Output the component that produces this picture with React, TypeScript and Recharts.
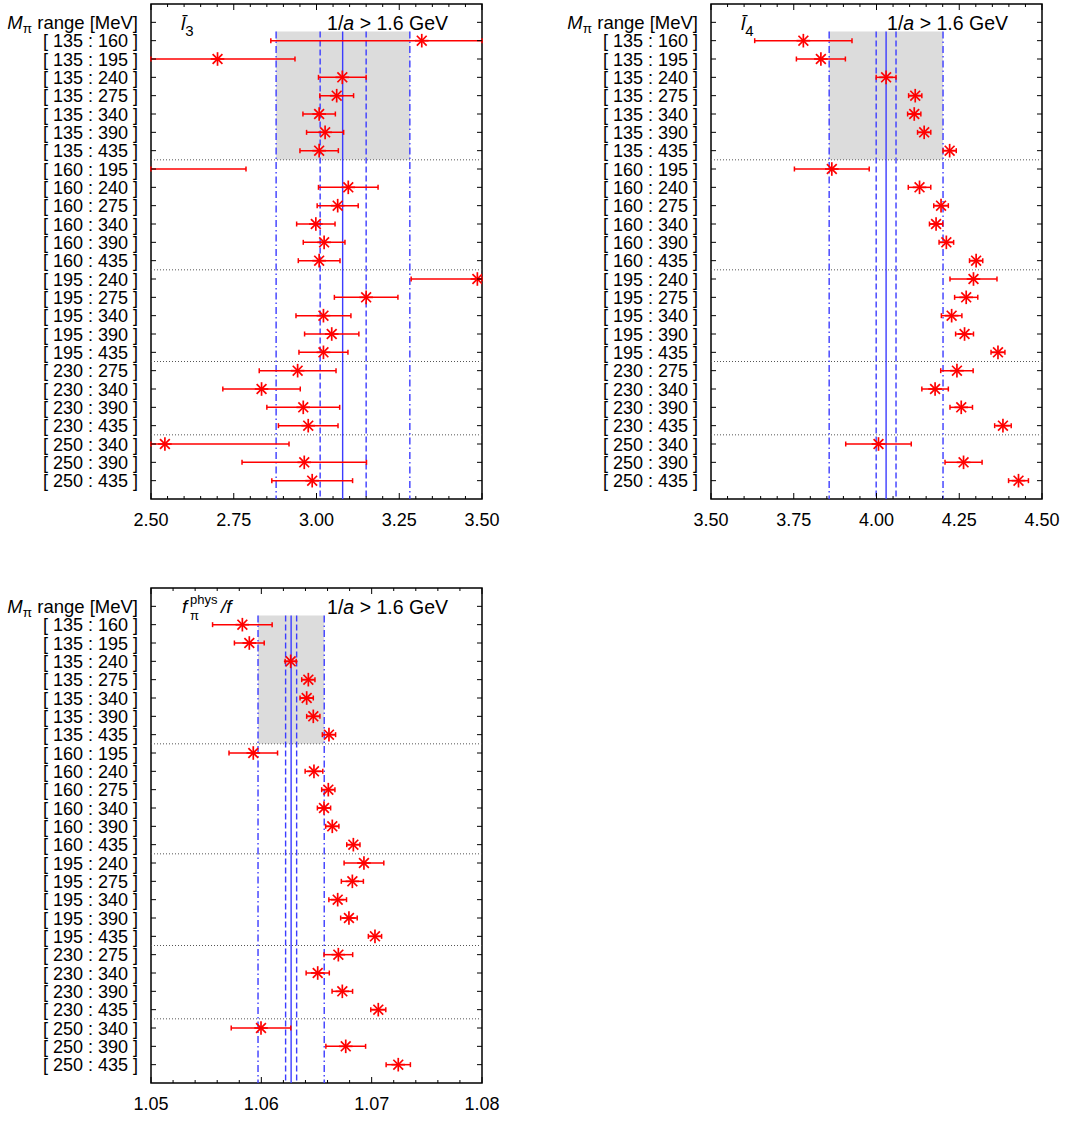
import React from "react";
import {
  ComposedChart,
  ErrorBar,
  ReferenceArea,
  ReferenceLine,
  Scatter,
  XAxis,
  YAxis,
} from "recharts";

const FONT = '"Liberation Sans", Arial, Helvetica, sans-serif';
const RED = "#ff0000";
const BLUE = "#3c3cff";

// M_pi fit ranges, one row each (top to bottom)
const ranges = [
  "[ 135 : 160 ]", "[ 135 : 195 ]", "[ 135 : 240 ]", "[ 135 : 275 ]", "[ 135 : 340 ]", "[ 135 : 390 ]", "[ 135 : 435 ]",
  "[ 160 : 195 ]", "[ 160 : 240 ]", "[ 160 : 275 ]", "[ 160 : 340 ]", "[ 160 : 390 ]", "[ 160 : 435 ]",
  "[ 195 : 240 ]", "[ 195 : 275 ]", "[ 195 : 340 ]", "[ 195 : 390 ]", "[ 195 : 435 ]",
  "[ 230 : 275 ]", "[ 230 : 340 ]", "[ 230 : 390 ]", "[ 230 : 435 ]",
  "[ 250 : 340 ]", "[ 250 : 390 ]", "[ 250 : 435 ]",
];

// l3 bar
const l3Val = [3.318, 2.701, 3.078, 3.061, 3.008, 3.026, 3.008, 2.42, 3.096, 3.064, 2.998, 3.023, 3.008, 3.486, 3.15, 3.021, 3.046, 3.021, 2.943, 2.834, 2.96, 2.975, 2.542, 2.963, 2.987];
const l3Err = [0.456, 0.234, 0.072, 0.051, 0.049, 0.056, 0.058, 0.367, 0.09, 0.062, 0.058, 0.063, 0.063, 0.2, 0.096, 0.083, 0.082, 0.074, 0.116, 0.117, 0.11, 0.09, 0.375, 0.188, 0.122];
const l3Fit = [2.878, 3.011, 3.079, 3.15, 3.282];
const l3Ticks = [2.5, 2.75, 3.0, 3.25, 3.5];

// l4 bar
const l4Val = [3.779, 3.832, 4.029, 4.117, 4.114, 4.144, 4.221, 3.865, 4.13, 4.195, 4.18, 4.211, 4.301, 4.293, 4.271, 4.227, 4.266, 4.367, 4.243, 4.177, 4.256, 4.382, 4.006, 4.263, 4.429];
const l4Err = [0.147, 0.074, 0.03, 0.02, 0.02, 0.02, 0.02, 0.113, 0.034, 0.022, 0.02, 0.022, 0.02, 0.071, 0.035, 0.031, 0.027, 0.021, 0.049, 0.04, 0.034, 0.025, 0.099, 0.056, 0.03];
const l4Fit = [3.857, 3.999, 4.029, 4.059, 4.201];
const l4Ticks = [3.5, 3.75, 4.0, 4.25, 4.5];

// f_pi^phys / f
const fVal = [1.05828, 1.05891, 1.06266, 1.06426, 1.06411, 1.06471, 1.06613, 1.05927, 1.06477, 1.06607, 1.06568, 1.06643, 1.06834, 1.0693, 1.06825, 1.06692, 1.06794, 1.0703, 1.06698, 1.06511, 1.06734, 1.0706, 1.05997, 1.06765, 1.07241];
const fErr = [0.0027, 0.00135, 0.0005, 0.0006, 0.0006, 0.0006, 0.0006, 0.0022, 0.0008, 0.0006, 0.0006, 0.0006, 0.0006, 0.0018, 0.001, 0.0008, 0.00075, 0.0006, 0.0013, 0.00105, 0.00093, 0.00068, 0.0027, 0.0018, 0.0011];
const fFit = [1.0597, 1.0622, 1.0627, 1.0632, 1.0657];
const fTicks = [1.05, 1.06, 1.07, 1.08];

const W = 500;
const H = 540;

function Star(props: any) {
  const { cx, cy } = props;
  if (cx == null || cy == null) return null;
  const r = 6.8;
  const d = 4.9;
  return (
    <g stroke={RED} strokeWidth={1.7}>
      <line x1={cx - r} x2={cx + r} y1={cy} y2={cy} />
      <line x1={cx} x2={cx} y1={cy - r} y2={cy + r} />
      <line x1={cx - d} x2={cx + d} y1={cy - d} y2={cy + d} />
      <line x1={cx - d} x2={cx + d} y1={cy + d} y2={cy - d} />
    </g>
  );
}

function XTick(props: any) {
  const { x, y, payload, side, major } = props;
  const isMajor = major.some((m: number) => Math.abs(m - payload.value) < 1e-9);
  const len = isMajor ? 6 : 3;
  const dir = side === "bottom" ? -1 : 1;
  return (
    <g>
      <line x1={x} x2={x} y1={y} y2={y + dir * len} stroke="#000" strokeWidth={1} />
      {side === "bottom" && isMajor ? (
        <text x={x} y={y + 27} textAnchor="middle" fontSize={18} fontFamily={FONT} fill="#000">
          {payload.value.toFixed(2)}
        </text>
      ) : null}
    </g>
  );
}

function YTick(props: any) {
  const { x, y, payload, side } = props;
  const dir = side === "left" ? 1 : -1;
  const v = payload.value;
  return (
    <g>
      <line x1={x} x2={x + dir * 5} y1={y} y2={y} stroke="#000" strokeWidth={1} />
      {side === "left" ? (
        v === 0 ? (
          <text x={x - 13} y={y + 6.5} textAnchor="end" fontSize={18.5} fontFamily={FONT} fill="#000">
            <tspan fontStyle="italic">M</tspan>
            <tspan fontSize={13.5} dy={4}>π</tspan>
            <tspan dy={-4}> range [MeV]</tspan>
          </text>
        ) : (
          <text x={x - 13} y={y + 6.5} textAnchor="end" fontSize={18} fontFamily={FONT} fill="#000">
            {ranges[v - 1]}
          </text>
        )
      ) : null}
    </g>
  );
}

function Panel(props: { vals: number[]; errs: number[]; fit: number[]; major: number[]; sub: number; title: React.ReactNode }) {
  const { vals, errs, fit, major, sub, title } = props;
  const lo = major[0];
  const hi = major[major.length - 1];
  // error bars are cut at the frame, as in the original
  const rows = ranges.map((_, i) => {
    const v = vals[i];
    const a = Math.max(v - errs[i], lo);
    const b = Math.min(v + errs[i], hi);
    return { y: i + 1, v, e: [v - a, b - v] };
  });

  const ticks: number[] = [];
  for (let i = 0; i < major.length - 1; i++) {
    const step = (major[i + 1] - major[i]) / sub;
    for (let k = 0; k < sub; k++) ticks.push(+(major[i] + k * step).toFixed(6));
  }
  ticks.push(hi);
  const yTicks = [0, ...rows.map((r) => r.y)];
  const breaks: number[] = [];
  ranges.forEach((r, i) => {
    if (i > 0 && r.split(":")[0] !== ranges[i - 1].split(":")[0]) breaks.push(i + 0.5);
  });
  const yMax = ranges.length + 1;
  const dom: [number, number] = [lo, hi];

  return (
    <div style={{ position: "relative", width: W, height: H }}>
      <ComposedChart width={W} height={H} data={rows} margin={{ top: 3, right: 17, bottom: 11, left: 11 }}>
        <XAxis
          xAxisId="b"
          orientation="bottom"
          dataKey="v"
          type="number"
          domain={dom}
          allowDataOverflow
          ticks={ticks}
          interval={0}
          height={30}
          tickSize={0}
          tickMargin={0}
          axisLine={false}
          tickLine={false}
          tick={(p: any) => <XTick {...p} side="bottom" major={major} />}
        />
        <XAxis
          xAxisId="t"
          orientation="top"
          dataKey="v"
          type="number"
          domain={dom}
          allowDataOverflow
          ticks={ticks}
          interval={0}
          height={1}
          tickSize={0}
          tickMargin={0}
          axisLine={false}
          tickLine={false}
          tick={(p: any) => <XTick {...p} side="top" major={major} />}
        />
        <YAxis
          yAxisId="l"
          orientation="left"
          dataKey="y"
          type="number"
          domain={[-1, yMax]}
          reversed
          allowDataOverflow
          ticks={yTicks}
          interval={0}
          width={140}
          tickSize={0}
          tickMargin={0}
          axisLine={false}
          tickLine={false}
          tick={(p: any) => <YTick {...p} side="left" />}
        />
        <YAxis
          yAxisId="r"
          orientation="right"
          dataKey="y"
          type="number"
          domain={[-1, yMax]}
          reversed
          allowDataOverflow
          ticks={yTicks}
          interval={0}
          width={1}
          tickSize={0}
          tickMargin={0}
          axisLine={false}
          tickLine={false}
          tick={(p: any) => <YTick {...p} side="right" />}
        />
        <ReferenceArea
          xAxisId="b"
          yAxisId="l"
          x1={fit[0]}
          x2={fit[4]}
          y1={0.5}
          y2={breaks[0]}
          fill="#dcdcdc"
          fillOpacity={1}
          stroke="none"
        />
        {breaks.map((b) => (
          <ReferenceLine key={b} xAxisId="b" yAxisId="l" y={b} stroke="#555" strokeWidth={1} strokeDasharray="1 2" />
        ))}
        {fit.map((f, i) => (
          <ReferenceLine
            key={i}
            xAxisId="b"
            yAxisId="l"
            segment={[
              { x: f, y: 0.5 },
              { x: f, y: yMax },
            ]}
            stroke={BLUE}
            strokeWidth={1.4}
            strokeDasharray={i === 2 ? undefined : i === 0 || i === 4 ? "7 3 1.5 3" : "6 3"}
          />
        ))}
        <Scatter xAxisId="b" yAxisId="l" dataKey="v" fill={RED} shape={Star} isAnimationActive={false}>
          <ErrorBar dataKey="e" direction="x" width={2.5} stroke={RED} strokeWidth={1.5} isAnimationActive={false} />
        </Scatter>
        <ReferenceArea
          xAxisId="b"
          yAxisId="l"
          x1={lo}
          x2={hi}
          y1={-1}
          y2={yMax}
          fill="none"
          fillOpacity={0}
          stroke="#000"
          strokeWidth={1.5}
          ifOverflow="visible"
        />
      </ComposedChart>
      <svg width={W} height={H} style={{ position: "absolute", left: 0, top: 0, pointerEvents: "none" }}>
        {title}
        <text x={448} y={29.5} textAnchor="end" fontSize={19.5} fontFamily={FONT} fill="#000">
          1/<tspan fontStyle="italic">a</tspan> &gt; 1.6 GeV
        </text>
      </svg>
    </div>
  );
}

function LTitle(props: { n: string }) {
  return (
    <text x={181} y={30} fontSize={19} fontFamily={FONT} fill="#000">
      <tspan fontStyle="italic">l{"\u0304"}</tspan>
      <tspan fontSize={15} dy={6}>
        {props.n}
      </tspan>
    </text>
  );
}

export default function App() {
  return (
    <div style={{ position: "absolute", left: 0, top: 0, width: 1065, height: 1121, background: "#fff" }}>
      <div style={{ position: "absolute", left: 0, top: 0 }}>
        <Panel vals={l3Val} errs={l3Err} fit={l3Fit} major={l3Ticks} sub={5} title={<LTitle n="3" />} />
      </div>
      <div style={{ position: "absolute", left: 560, top: 0 }}>
        <Panel vals={l4Val} errs={l4Err} fit={l4Fit} major={l4Ticks} sub={5} title={<LTitle n="4" />} />
      </div>
      <div style={{ position: "absolute", left: 0, top: 584 }}>
        <Panel
          vals={fVal}
          errs={fErr}
          fit={fFit}
          major={fTicks}
          sub={5}
          title={
            <text x={182} y={29} fontSize={19} fontFamily={FONT} fill="#000">
              <tspan fontStyle="italic">f</tspan>
              <tspan fontSize={13} x={190} dy={-9}>phys</tspan>
              <tspan fontSize={13} x={190} dy={16}>π</tspan>
              <tspan x={221} dy={-7} fontStyle="italic">/f</tspan>
            </text>
          }
        />
      </div>
    </div>
  );
}
